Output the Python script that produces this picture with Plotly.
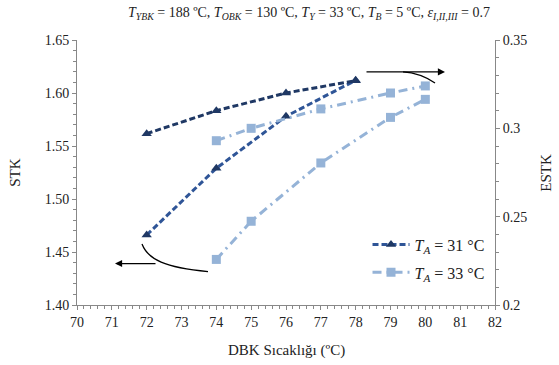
import plotly.graph_objects as go

# ---------------- data ----------------
dbk_31 = [72, 74, 76, 78]
stk_31 = [1.466, 1.529, 1.578, 1.612]
estk_31 = [0.297, 0.310, 0.320, 0.327]

dbk_33 = [74, 75, 77, 79, 80]
stk_33 = [1.443, 1.479, 1.534, 1.577, 1.594]
estk_33 = [0.293, 0.300, 0.311, 0.320, 0.324]

x_ticks = list(range(70, 83))
stk_ticks = [1.40, 1.45, 1.50, 1.55, 1.60, 1.65]
estk_ticks = [0.2, 0.25, 0.3, 0.35]

series_names = ["<i>T</i><sub><i>A</i></sub> = 31 °C", "<i>T</i><sub><i>A</i></sub> = 33 °C"]

# ---------------- styles ----------------
NAVY = "#1F3864"
MID = "#2F5597"
LIGHT = "#95B3D7"
FONT = "Liberation Serif"
DARK_DASH = "6px,3px"
LIGHT_DASH = "9px,5px,2px,5px"

fig = go.Figure()

fig.add_trace(go.Scatter(x=dbk_31, y=estk_31, yaxis="y2", mode="lines+markers",
                         line=dict(color=NAVY, width=3, dash=DARK_DASH),
                         marker=dict(symbol="triangle-up", size=9, color=NAVY),
                         showlegend=False))
fig.add_trace(go.Scatter(x=dbk_31, y=stk_31, yaxis="y", mode="lines+markers",
                         line=dict(color=MID, width=3, dash=DARK_DASH),
                         marker=dict(symbol="triangle-up", size=9, color=NAVY),
                         name=series_names[0], legendgroup="a"))
fig.add_trace(go.Scatter(x=dbk_33, y=estk_33, yaxis="y2", mode="lines+markers",
                         line=dict(color=LIGHT, width=3, dash=LIGHT_DASH),
                         marker=dict(symbol="square", size=9, color=LIGHT),
                         showlegend=False))
fig.add_trace(go.Scatter(x=dbk_33, y=stk_33, yaxis="y", mode="lines+markers",
                         line=dict(color=LIGHT, width=3, dash=LIGHT_DASH),
                         marker=dict(symbol="square", size=9, color=LIGHT),
                         name=series_names[1], legendgroup="b"))

axis_common = dict(showline=True, linecolor="#888888", linewidth=1,
                   ticks="outside", ticklen=4, tickcolor="#888888",
                   showgrid=False, zeroline=False,
                   tickfont=dict(family=FONT, size=14, color="#222222"))

fig.update_layout(
    width=559, height=365,
    margin=dict(l=77, r=64, t=40, b=59.5),
    paper_bgcolor="white", plot_bgcolor="white",
    font=dict(family=FONT, size=14, color="#222222"),
    xaxis=dict(range=[70, 82], tickvals=x_ticks,
               minor=dict(dtick=0.2, ticks="outside", ticklen=3, tickcolor="#888888"),
               **axis_common),
    yaxis=dict(range=[1.40, 1.65], tickvals=stk_ticks, tickformat=".2f",
               minor=dict(dtick=0.01, ticks="outside", ticklen=3, tickcolor="#888888"),
               **axis_common),
    yaxis2=dict(range=[0.2, 0.35], tickvals=estk_ticks, overlaying="y", side="right",
                minor=dict(dtick=0.01, ticks="outside", ticklen=3, tickcolor="#888888"),
                **axis_common),
    legend=dict(x=0.695, y=0.292, xanchor="left", yanchor="top",
                bgcolor="rgba(0,0,0,0)", tracegroupgap=4, itemwidth=37,
                font=dict(family=FONT, size=16, color="#222222")),
    showlegend=True,
)

# titles
fig.add_annotation(xref="paper", yref="paper", x=0.555, y=1.10, yanchor="middle",
                   showarrow=False, font=dict(family=FONT, size=14, color="#222222"),
                   text="<i>T</i><sub><i>YBK</i></sub> = 188 ºC, <i>T</i><sub><i>OBK</i></sub> = 130 ºC, "
                        "<i>T</i><sub><i>Y</i></sub> = 33 ºC, <i>T</i><sub><i>B</i></sub> = 5 ºC, "
                        "<i>ε</i><sub><i>I,II,III</i></sub> = 0.7")
fig.add_annotation(xref="paper", yref="paper", x=0.5, y=-0.17, yanchor="middle",
                   showarrow=False, font=dict(family=FONT, size=15, color="#222222"),
                   text="DBK Sıcaklığı (ºC)")
fig.add_annotation(xref="paper", yref="paper", x=-0.15, y=0.5, xanchor="center",
                   textangle=-90, showarrow=False,
                   font=dict(family=FONT, size=15, color="#222222"), text="STK")
fig.add_annotation(xref="paper", yref="paper", x=1.12, y=0.5, xanchor="center",
                   textangle=-90, showarrow=False,
                   font=dict(family=FONT, size=15, color="#222222"), text="ESTK")

# decorative arrows (axis pointers)
fig.add_annotation(xref="x", yref="y", axref="x", ayref="y",
                   x=80.565, y=1.6199, ax=78.268, ay=1.6199, text="",
                   showarrow=True, arrowhead=2, arrowsize=1.1, arrowwidth=1.3, arrowcolor="black")
fig.add_shape(type="path", xref="x", yref="y",
              path="M 80.278,1.6095 Q 79.847,1.6189 79.359,1.6199",
              line=dict(color="black", width=1.3))
fig.add_annotation(xref="x", yref="y", axref="x", ayref="y",
                   x=71.091, y=1.4391, ax=72.297, ay=1.4391, text="",
                   showarrow=True, arrowhead=2, arrowsize=1.1, arrowwidth=1.3, arrowcolor="black")
fig.add_shape(type="path", xref="x", yref="y",
              path="M 71.866,1.4576 C 72.038,1.4428 72.526,1.4353 73.761,1.4315",
              line=dict(color="black", width=1.3))

# remove the default page margin so the 559x365 figure fills the window exactly
fig.write_html("out.html", config={"displayModeBar": False},
               post_script="document.body.style.margin='0';")
